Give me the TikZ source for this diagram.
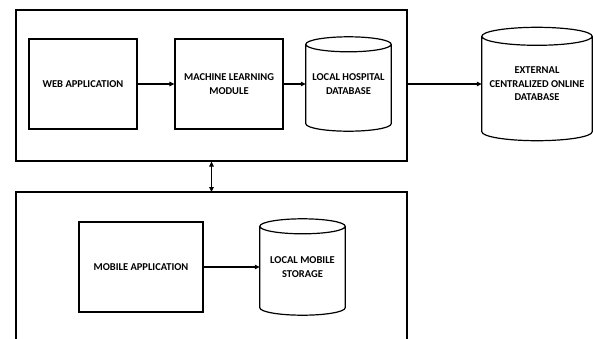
\documentclass[tikz,border=0pt]{standalone}
\usepackage{fontspec}
\setmainfont{Carlito}
\usetikzlibrary{arrows.meta,calc}
\tikzset{
  box/.style={draw, line width=1.2pt, inner sep=2pt, align=center},
  dbnode/.style={inner sep=1pt, align=center},
  lbl/.style={font=\fontsize{10.5}{13.5}\selectfont\bfseries},
  conn/.style={line width=1.2pt, -{Triangle[length=5pt,width=4.5pt]}},
  conn2/.style={line width=1.2pt, {Triangle[length=5pt,width=4.5pt]}-{Triangle[length=5pt,width=4.5pt]}},
  cylline/.style={line width=1.2pt}
}
\newcommand\mycyl[2]{%
  \draw[cylline] let \p1=(#1.north west), \p2=(#1.south east), \n1={(\x2-\x1)/2} in
    (\x1,\y1-#2) -- (\x1,\y2+#2) arc[start angle=180,end angle=360,x radius=\n1,y radius=#2]
    -- (\x2,\y1-#2)
    (\x1+\n1,\y1-#2) ellipse[x radius=\n1,y radius=#2];}
\begin{document}
\begin{tikzpicture}[x=1pt,y=-1pt]
\useasboundingbox (0,0) rectangle (593,338);
% top container
\node[box, minimum width=391pt, minimum height=151pt] (top) at (211.5,85.5) {};
\node[box, lbl, minimum width=108pt, minimum height=90pt] (web) at (83,84) {WEB APPLICATION};
\node[box, lbl, minimum width=108pt, minimum height=90pt] (ml) at (229,84) {MACHINE LEARNING\\MODULE};
\node[dbnode, lbl, minimum width=85pt, minimum height=94pt] (hosp) at (348.5,84) {LOCAL HOSPITAL\\DATABASE};
\mycyl{hosp}{7.5pt}
\node[dbnode, lbl, minimum width=110pt, minimum height=113pt] (ext) at (537,84) {EXTERNAL\\CENTRALIZED ONLINE\\DATABASE};
\mycyl{ext}{9pt}
\draw[conn] (web) -- (ml);
\draw[conn] (ml) -- (hosp);
\draw[conn] (top.east |- ext.west) -- (ext.west);
% bottom container (cut off)
\coordinate (bl) at (16,339);
\coordinate (br) at (407,339);
\coordinate (btl) at (16,192);
\coordinate (btr) at (407,192);
\coordinate (bn) at (211.5,192);
\draw[line width=1.2pt] (bl) -- (btl) -- (btr) -- (br);
\draw[conn2] (top.south) -- (bn);
\node[box, lbl, minimum width=124pt, minimum height=90pt] (mob) at (141,267) {MOBILE APPLICATION};
\node[dbnode, lbl, minimum width=85pt, minimum height=96pt] (stor) at (302.5,267) {LOCAL MOBILE\\STORAGE};
\mycyl{stor}{7.5pt}
\draw[conn] (mob) -- (stor);
\end{tikzpicture}
\end{document}
